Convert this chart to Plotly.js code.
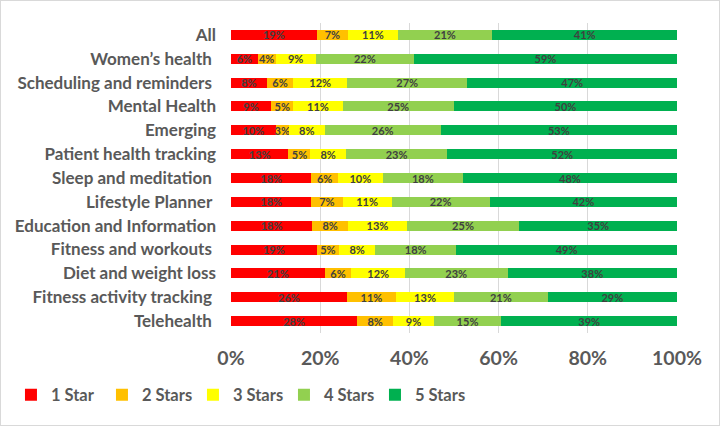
<!DOCTYPE html>
<html>
<head>
<meta charset="utf-8">
<script src="https://cdn.plot.ly/plotly-3.0.1.min.js"></script>
<style>
html, body { margin: 0; padding: 0; background: #ffffff; }
#chart { position: absolute; left: 0; top: 0; width: 718px; height: 424px; border: 1px solid #d9d9d9; }
</style>
</head>
<body>
<div id="chart"></div>
<script>
const categories = [
  "All",
  "Women\u2019s health\u00a0",
  "Scheduling and reminders\u00a0",
  "Mental Health",
  "Emerging",
  "Patient health tracking",
  "Sleep and meditation\u00a0",
  "Lifestyle Planner\u00a0",
  "Education and Information",
  "Fitness and workouts\u00a0",
  "Diet and weight loss",
  "Fitness activity tracking\u00a0",
  "Telehealth\u00a0"
];
const seriesNames = ["1 Star", "2 Stars", "3 Stars", "4 Stars", "5 Stars"];
const star1 = [19, 6, 8, 9, 10, 13, 18, 18, 18, 19, 21, 26, 28];
const star2 = [7, 4, 6, 5, 3, 5, 6, 7, 8, 5, 6, 11, 8];
const star3 = [11, 9, 12, 11, 8, 8, 10, 11, 13, 8, 12, 13, 9];
const star4 = [21, 22, 27, 25, 26, 23, 18, 22, 25, 18, 23, 21, 15];
const star5 = [41, 59, 47, 50, 53, 52, 48, 42, 35, 49, 38, 29, 39];
const tickVals = [0, 20, 40, 60, 80, 100];
const colors = ["#FF0000", "#FFC000", "#FFFF00", "#92D050", "#00B050"];

const allSeries = [star1, star2, star3, star4, star5];
const traces = allSeries.map((vals, i) => ({
  type: "bar",
  orientation: "h",
  name: seriesNames[i],
  y: categories,
  x: vals,
  text: vals.map(v => v + "%"),
  textposition: "inside",
  insidetextanchor: "middle",
  textangle: 0,
  constraintext: "none",
  textfont: { family: "Lato, sans-serif", size: 11, color: "#404040", weight: "bold" },
  marker: { color: colors[i], line: { width: 0 } },
  hoverinfo: "skip"
}));

const layout = {
  width: 718,
  height: 424,
  margin: { l: 229, r: 42, t: 22, b: 92 },
  barmode: "stack",
  barnorm: "percent",
  bargap: 0.58,
  paper_bgcolor: "#ffffff",
  plot_bgcolor: "#ffffff",
  font: { family: "Lato, sans-serif", color: "#595959" },
  xaxis: {
    range: [0, 100],
    tickvals: tickVals,
    ticktext: tickVals.map(v => v + "%"),
    showgrid: true,
    gridcolor: "#d9d9d9",
    gridwidth: 1,
    zeroline: false,
    showline: false,
    ticks: "",
    ticklabelstandoff: 11,
    tickfont: { size: 19.5, color: "#595959", weight: "bold" },
    fixedrange: true
  },
  yaxis: {
    type: "category",
    autorange: "reversed",
    showgrid: false,
    zeroline: false,
    showline: false,
    ticks: "",
    ticklabelstandoff: 14,
    tickfont: { size: 17, color: "#595959", weight: "bold" },
    fixedrange: true
  },
  legend: {
    orientation: "h",
    x: -0.49,
    xanchor: "left",
    y: -0.2,
    yanchor: "middle",
    font: { size: 16.5, color: "#595959", weight: "bold" },
    traceorder: "normal",
    itemwidth: 30,
    entrywidth: 46
  },
  showlegend: true
};

Plotly.newPlot("chart", traces, layout, { displayModeBar: false, staticPlot: true });
</script>
</body>
</html>
